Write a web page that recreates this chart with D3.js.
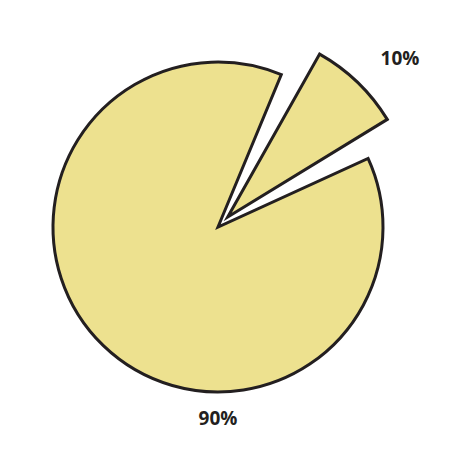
<!DOCTYPE html>
<html><head><meta charset="utf-8">
<script src="https://cdn.jsdelivr.net/npm/d3@7"></script>
<style>body{margin:0;background:#fff}</style>
</head><body>
<script>
var width = 474, height = 474
var labels = ["90%", "10%"]
var values = [90, 10]

var cx = 218, cy = 227, r = 165
var svg = d3.select("body").append("svg").attr("width", width).attr("height", height)
var g = svg.append("g").attr("transform", "translate(" + cx + "," + cy + ")")

// small slice centred around ~44 deg clockwise from 12 o'clock
var mid = 44 * Math.PI / 180
var small = 2 * Math.PI * values[1] / d3.sum(values)
var pie = d3.pie().sort(null).value(d => d)
  .startAngle(mid + small / 2).endAngle(mid + small / 2 + 2 * Math.PI)
var arcs = pie(values)

var bigArc = d3.arc().innerRadius(0).outerRadius(r).padAngle(0.12)
var smallArc = d3.arc().innerRadius(0).outerRadius(r + 22).padAngle(0.12)

arcs.forEach(function(a, i){
  var off = i == 1 ? 14 : 0
  var m = (a.startAngle + a.endAngle) / 2
  g.append("path")
    .attr("d", i == 1 ? smallArc(a) : bigArc(a))
    .attr("transform", "translate(" + (Math.sin(m) * off) + "," + (-Math.cos(m) * off) + ")")
    .style("fill", "#ede18f")
    .style("stroke", "#231f20")
    .style("stroke-width", 3)
    .style("stroke-linejoin", "miter")
})

svg.append("text").attr("x", 400).attr("y", 65).attr("text-anchor", "middle")
  .style("font", "bold 19px 'Open Sans', sans-serif").style("fill", "#231f20").text(labels[1])
svg.append("text").attr("x", 218).attr("y", 425).attr("text-anchor", "middle")
  .style("font", "bold 19px 'Open Sans', sans-serif").style("fill", "#231f20").text(labels[0])
</script>
</body></html>
